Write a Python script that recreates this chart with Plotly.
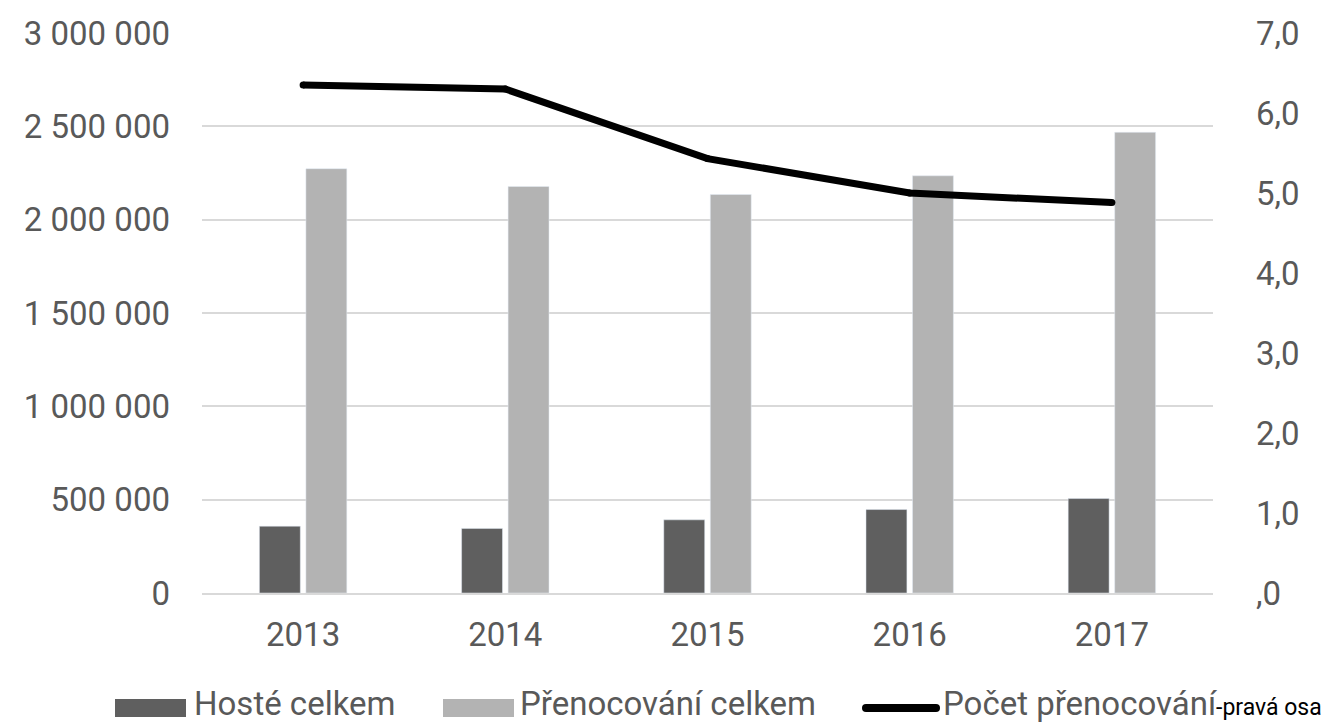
import plotly.graph_objects as go

years = ["2013", "2014", "2015", "2016", "2017"]
hoste = [358000, 346000, 392000, 447000, 506000]
prenocovani = [2273000, 2178000, 2135000, 2235000, 2468000]
pocet = [6.35, 6.30, 5.43, 5.00, 4.88]

left_tickvals = [0, 500000, 1000000, 1500000, 2000000, 2500000, 3000000]
left_ticktext = ["0", "500 000", "1 000 000", "1 500 000", "2 000 000", "2 500 000", "3 000 000"]
right_tickvals = [0, 1, 2, 3, 4, 5, 6, 7]
right_ticktext = [",0", "1,0", "2,0", "3,0", "4,0", "5,0", "6,0", "7,0"]

series_names = ["Hosté celkem", "Přenocování celkem", "Počet přenocování"]
line_suffix = "-pravá osa"

FONT = "Roboto"
GREY = "#595959"
DARK = "#5f5f5f"
LIGHT = "#b3b3b3"
W, H = 1344, 725
ML, MR, MT, MB = 202, 131, 33, 132
PW, PH = W - ML - MR, H - MT - MB


def px(xp):
    return (xp - ML) / PW


def py(yp):
    return (H - MB - yp) / PH


fig = go.Figure()
fig.add_trace(go.Bar(x=years, y=hoste, name=series_names[0], marker_color=DARK))
fig.add_trace(go.Bar(x=years, y=prenocovani, name=series_names[1], marker_color=LIGHT))
fig.add_trace(go.Scatter(
    x=years, y=pocet, yaxis="y2", mode="lines+markers",
    name=series_names[2] + line_suffix,
    line=dict(color="#000000", width=7), marker=dict(color="#000000", size=7),
))

# manual legend (Excel-style wide swatches)
LEG_Y = 708
TXT_Y = 703
shapes = [
    dict(type="rect", xref="paper", yref="paper", x0=px(115), x1=px(186),
         y0=py(717), y1=py(699), fillcolor=DARK, line=dict(width=0)),
    dict(type="rect", xref="paper", yref="paper", x0=px(443), x1=px(514),
         y0=py(717), y1=py(699), fillcolor=LIGHT, line=dict(width=0)),
    dict(type="line", xref="paper", yref="paper", x0=px(866), x1=px(936),
         y0=py(LEG_Y), y1=py(LEG_Y), line=dict(color="#000000", width=8)),
    dict(type="circle", xref="paper", yref="paper", x0=px(862), x1=px(870),
         y0=py(LEG_Y + 4), y1=py(LEG_Y - 4), fillcolor="#000000", line=dict(width=0)),
    dict(type="circle", xref="paper", yref="paper", x0=px(932), x1=px(940),
         y0=py(LEG_Y + 4), y1=py(LEG_Y - 4), fillcolor="#000000", line=dict(width=0)),
]
annotations = [
    dict(text=series_names[0], x=px(193), y=py(TXT_Y), xref="paper", yref="paper",
         xanchor="left", yanchor="middle", showarrow=False, borderpad=0,
         font=dict(family=FONT, size=33, color=GREY)),
    dict(text=series_names[1], x=px(519), y=py(TXT_Y), xref="paper", yref="paper",
         xanchor="left", yanchor="middle", showarrow=False, borderpad=0,
         font=dict(family=FONT, size=33, color=GREY)),
    dict(text=series_names[2] + "<span style='font-size:23px;color:#000000'>" + line_suffix + "</span>",
         x=px(942), y=py(TXT_Y), xref="paper", yref="paper",
         xanchor="left", yanchor="middle", showarrow=False, borderpad=0,
         font=dict(family=FONT, size=33, color=GREY)),
]

fig.update_layout(
    width=W, height=H,
    margin=dict(l=ML, r=MR, t=MT, b=MB, autoexpand=False),
    plot_bgcolor="white", paper_bgcolor="white",
    font=dict(family=FONT, size=33, color=GREY),
    barmode="group", bargap=0.54, bargroupgap=0.12,
    showlegend=False,
    xaxis=dict(showgrid=False, showline=True, linecolor="#d9d9d9", linewidth=2,
               ticks="", ticklabelstandoff=11, automargin=False,
               tickfont=dict(family=FONT, size=33, color=GREY)),
    yaxis=dict(range=[0, 3000000], tickvals=left_tickvals, ticktext=left_ticktext,
               showgrid=True, gridcolor="#d9d9d9", gridwidth=2, zeroline=False,
               ticks="", ticklabelstandoff=31, automargin=False,
               tickfont=dict(family=FONT, size=33, color=GREY)),
    yaxis2=dict(range=[0, 7], tickvals=right_tickvals, ticktext=right_ticktext,
                overlaying="y", side="right", showgrid=False, zeroline=False,
                ticks="", ticklabelstandoff=42, automargin=False,
                tickfont=dict(family=FONT, size=33, color=GREY)),
    shapes=shapes,
    annotations=annotations,
)

fig.write_html(
    "out.html",
    config={"displayModeBar": False},
    post_script="document.body.style.margin='0';document.body.style.overflow='hidden';",
)
